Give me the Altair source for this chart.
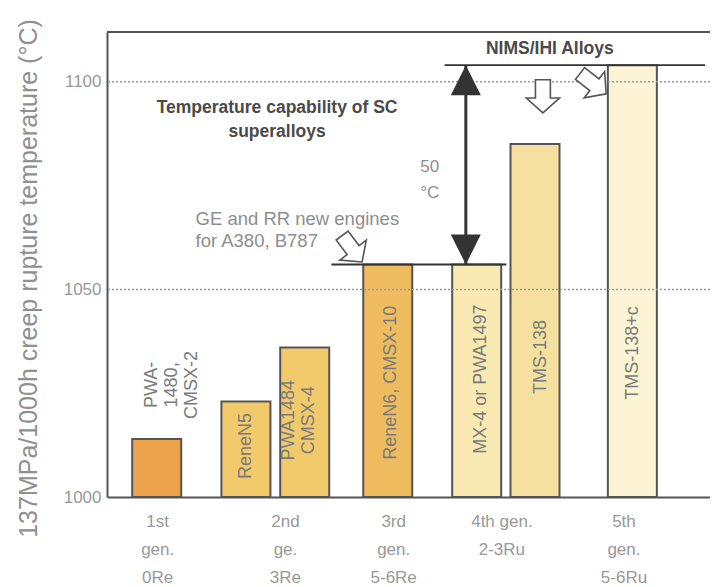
import json
import altair as alt
import pandas as pd

# ---------------- data ----------------
alloys = ["PWA-1480, CMSX-2", "ReneN5", "PWA1484 CMSX-4", "ReneN6, CMSX-10",
          "MX-4 or PWA1497", "TMS-138", "TMS-138+c"]
slots = [9.05, 27.1, 39.0, 55.8, 73.8, 85.6, 105.3]          # x slot of each bar
temps = [1014, 1023, 1036, 1056, 1056, 1085, 1104]           # 137MPa/1000h rupture temp (°C)
colors = ["#EDA24C", "#F2CA6C", "#F2CA6C", "#EEBC5E", "#F8EAB2", "#F5E0A0", "#FCF4D4"]
base_temp = 1000

gen_pos = [9.15, 35.0, 56.9, 78.8, 103.5]
gen_labels = [["1st", "gen.", "0Re"], ["2nd", "ge.", "3Re"], ["3rd", "gen.", "5-6Re"],
              ["4th gen.", "2-3Ru"], ["5th", "gen.", "5-6Ru"]]

y_ticks = [1000, 1050, 1100]
grid_vals = [1050, 1100]

# in-bar (rotated) labels; anchor is the first text line
bar_label_text = ["PWA-\n1480,\nCMSX-2", "ReneN5", "PWA1484\nCMSX-4", "ReneN6, CMSX-10",
                  "MX-4 or PWA1497", "TMS-138", "TMS-138+c"]
bar_label_x = [8.0, 27.1, 35.8, 56.5, 74.6, 86.8, 105.5]
bar_label_y = [1027.0, 1012.3, 1018.5, 1027.5, 1028.4, 1033.7, 1034.7]

# annotation texts (anchor is the first text line)
ann_bold = ["Temperature capability of SC\nsuperalloys", "NIMS/IHI Alloys"]
ann_bold_x = [33.4, 88.6]
ann_bold_y = [1093.7, 1108.0]
ann_gray_left = ["GE and RR new engines\nfor A380, B787"]
ann_gray_left_x = [16.9]
ann_gray_left_y = [1067.0]
ann_gray_center = ["50\n°C"]
ann_gray_center_x = [64.3]
ann_gray_center_y = [1079.5]

# level lines (bar tops)
lvl_y = [1056, 1104]
lvl_x1 = [44.4, 67.3]
lvl_x2 = [79.8, 120]

# double arrow (50 °C gap)
dbl_x = 71.6
dbl_lo, dbl_hi = 1056, 1104

# hollow block arrows: tip position and direction
hol_x = [50.6, 87.2, 100.0]
hol_y = [1056.6, 1092.5, 1097.1]
hol_angle = [323, 0, 308]

W, H = 603, 465
XDOM = [0, 120]
YDOM = [1000, 1112]
FONT = "Liberation Sans"
GRAY = "#8e8e8e"

xs = alt.Scale(domain=XDOM, nice=False, zero=False)
ys = alt.Scale(domain=YDOM, nice=False, zero=False)

bars_df = pd.DataFrame({"alloy": alloys, "slot": slots, "temp": temps, "color": colors})

expr = " : ".join(f"datum.value == {p} ? {json.dumps(l)}" for p, l in zip(gen_pos, gen_labels)) + " : ''"

x_axis = alt.Axis(values=gen_pos, labelExpr=expr, ticks=False, tickSize=0, grid=False,
                  title=None, labelFont=FONT, labelFontSize=17, labelColor="#999999",
                  labelLineHeight=28, labelPadding=16, labelOverlap=False,
                  labelBound=False, labelFlush=False, domainColor="#555", domainWidth=2)
y_axis = alt.Axis(values=y_ticks, format="d", ticks=False, tickSize=0, grid=False,
                  title="137MPa/1000h creep rupture temperature  (°C)",
                  titleFont=FONT, titleFontSize=25, titleFontWeight="normal",
                  titleColor="#909090", titleAngle=270, titleX=-79, titleY=246,
                  titleAlign="center", titleBaseline="middle",
                  labelFont=FONT, labelFontSize=17, labelColor="#999999", labelPadding=6,
                  domainColor="#555", domainWidth=2)


def X(f):
    return alt.X(f, scale=xs, axis=x_axis)


def Y(f):
    return alt.Y(f, scale=ys, axis=y_axis)


grid = alt.Chart(pd.DataFrame({"temp": grid_vals})).mark_rule(
    color="#9a9a9a", strokeDash=[2, 2], strokeWidth=1.5
).encode(y=Y("temp:Q"))

bars = alt.Chart(bars_df).mark_bar(size=49, stroke="#555", strokeWidth=2).encode(
    x=X("slot:Q"), y=Y("temp:Q"), y2=alt.datum(base_temp), color=alt.Color("color:N", scale=None)
)

top_frame = alt.Chart(pd.DataFrame({"temp": [YDOM[1]]})).mark_rule(color="#555", strokeWidth=2).encode(
    y=Y("temp:Q"), x=alt.value(0), x2=alt.value(W)
)

lvl = alt.Chart(pd.DataFrame({"temp": lvl_y, "slot": lvl_x1, "x2": lvl_x2})).mark_rule(
    color="#333", strokeWidth=1.8
).encode(y=Y("temp:Q"), x=X("slot:Q"), x2="x2:Q")

blabels = alt.Chart(pd.DataFrame({"t": bar_label_text, "slot": bar_label_x, "temp": bar_label_y})).mark_text(
    angle=270, font=FONT, fontSize=18, color="#7a7a7a", lineBreak="\n", lineHeight=20,
    align="center", baseline="middle"
).encode(x=X("slot:Q"), y=Y("temp:Q"), text="t:N")

bold_txt = alt.Chart(pd.DataFrame({"t": ann_bold, "slot": ann_bold_x, "temp": ann_bold_y})).mark_text(
    font=FONT, fontSize=17.5, fontWeight="bold", color="#4a4a4a", lineBreak="\n", lineHeight=24,
    align="center", baseline="middle"
).encode(x=X("slot:Q"), y=Y("temp:Q"), text="t:N")

gray_left = alt.Chart(pd.DataFrame({"t": ann_gray_left, "slot": ann_gray_left_x,
                                    "temp": ann_gray_left_y})).mark_text(
    font=FONT, fontSize=18.5, color=GRAY, lineBreak="\n", lineHeight=22, baseline="middle", align="left"
).encode(x=X("slot:Q"), y=Y("temp:Q"), text="t:N")

gray_center = alt.Chart(pd.DataFrame({"t": ann_gray_center, "slot": ann_gray_center_x,
                                      "temp": ann_gray_center_y})).mark_text(
    font=FONT, fontSize=17, color=GRAY, lineBreak="\n", lineHeight=26, baseline="middle", align="center"
).encode(x=X("slot:Q"), y=Y("temp:Q"), text="t:N")

shaft = alt.Chart(pd.DataFrame({"slot": [dbl_x], "temp": [dbl_lo], "hi": [dbl_hi]})).mark_rule(
    color="#333", strokeWidth=3
).encode(x=X("slot:Q"), y=Y("temp:Q"), y2="hi:Q")

head_up = alt.Chart(pd.DataFrame({"slot": [dbl_x], "temp": [dbl_hi]})).mark_point(
    shape="M0,0L-1,2L1,2Z", size=900, filled=True, color="#333", opacity=1
).encode(x=X("slot:Q"), y=Y("temp:Q"))

head_dn = alt.Chart(pd.DataFrame({"slot": [dbl_x], "temp": [dbl_lo]})).mark_point(
    shape="M0,0L-1,-2L1,-2Z", size=900, filled=True, color="#333", opacity=1
).encode(x=X("slot:Q"), y=Y("temp:Q"))

hollow = alt.Chart(pd.DataFrame({"slot": hol_x, "temp": hol_y, "a": hol_angle})).mark_point(
    shape="M0,0L-1,-0.9L-0.45,-0.9L-0.45,-2L0.45,-2L0.45,-0.9L1,-0.9Z",
    size=1100, filled=True, fill="white", stroke="#555", strokeWidth=1.6, opacity=1
).encode(x=X("slot:Q"), y=Y("temp:Q"), angle=alt.Angle("a:Q", scale=None))

chart = alt.layer(
    bars, grid, top_frame, lvl, blabels, bold_txt, gray_left, gray_center,
    shaft, head_up, head_dn, hollow
).properties(
    width=W, height=H,
    autosize=alt.AutoSizeParams(type="none"),
    padding={"left": 99, "top": 24, "right": 0, "bottom": 88},
    background="white"
).configure_view(stroke=None)

chart.save("out.html", embed_options={"renderer": "svg", "actions": False})
